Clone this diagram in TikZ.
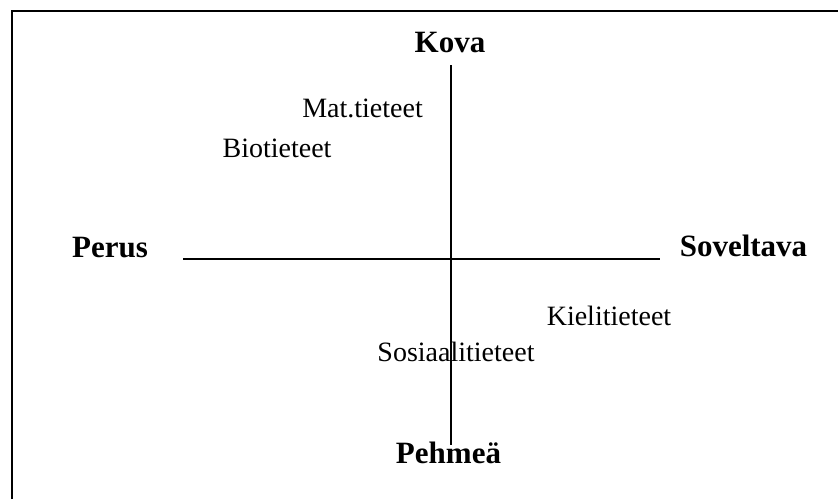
\documentclass[tikz,border=0pt]{standalone}
\usepackage{fontspec}
\setmainfont{Liberation Serif}
\begin{document}
\begin{tikzpicture}[x=1pt,y=-1pt,
  axislabel/.style={inner sep=0pt,anchor=base,font=\fontsize{31}{31}\selectfont\bfseries},
  field/.style={inner sep=0pt,anchor=base,font=\fontsize{28}{28}\selectfont},
  axisline/.style={line width=2pt,black},
  frameline/.style={line width=2.4pt,black}]
\useasboundingbox (0,0) rectangle (838,499);
% frame (cut off at right and bottom)
\coordinate (fbl) at (12,499);
\coordinate (ftl) at (12,11);
\coordinate (ftr) at (838,11);
\draw[frameline] (fbl) -- (ftl) -- (ftr);
% axis ends
\coordinate (vtop) at (451,65);
\coordinate (vbot) at (451,445);
\coordinate (hleft) at (183,259);
\coordinate (hright) at (660,259);
\draw[axisline] (hleft) -- (hright);
\draw[axisline] (vtop) -- (vbot);
% axis labels
\node[axislabel] (kova) at (450,52) {Kova};
\node[axislabel] (perus) at (110,257) {Perus};
\node[axislabel] (soveltava) at (743.5,256) {Soveltava};
\node[axislabel] (pehmea) at (448.5,463) {Pehmeä};
% fields
\node[field] (mat) at (362.5,117) {Mat.tieteet};
\node[field] (bio) at (277,157) {Biotieteet};
\node[field] (kieli) at (609,325) {Kielitieteet};
\node[field] (sosi) at (456,361) {Sosiaalitieteet};
\end{tikzpicture}
\end{document}
